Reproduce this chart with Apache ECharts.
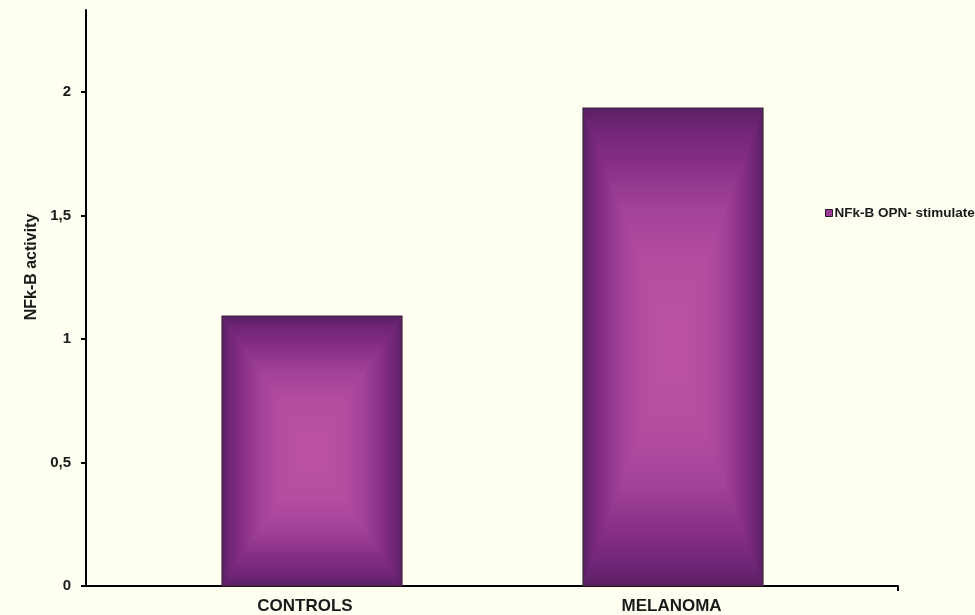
<!DOCTYPE html>
<html>
<head>
<meta charset="utf-8">
<script src="https://cdn.jsdelivr.net/npm/echarts@6/dist/echarts.min.js"></script>
<style>
  html, body { margin: 0; padding: 0; background: #fffff2; }
  #chart { width: 975px; height: 615px; }
</style>
</head>
<body>
<div id="chart"></div>
<script>
// Groups on the horizontal axis
var categories = ['CONTROLS', 'MELANOMA'];
// NF-kB activity after OPN stimulation
var seriesName = 'NFk-B OPN- stimulated';
var values = [1.095, 1.935];
// Value-axis tick labels (comma as decimal separator)
var yTicks = [0, 0.5, 1, 1.5, 2];

var X_MIN = -0.626, X_MAX = 1.623, Y_MAX = 2.332;
var BAR_W = 180;

// Path-gradient stops, from the edge of the bar toward its centre
var stops = [
  [0.00, '#5a1f63'],
  [0.08, '#6e2576'],
  [0.22, '#862d85'],
  [0.42, '#a2429a'],
  [0.65, '#b54d9f'],
  [1.00, '#bd52a1']
];

function grad(x1, y1, x2, y2) {
  return {
    type: 'linear', x: x1, y: y1, x2: x2, y2: y2, global: true,
    colorStops: stops.map(function (s) { return { offset: s[0], color: s[1] }; })
  };
}

// Each bar: a rectangular "from centre" gradient built from a horizontal
// gradient rect and two vertical-gradient triangles on top of it.
function renderBar(params, api) {
  var top = api.coord([api.value(0), api.value(1)]);
  var base = api.coord([api.value(0), 0]);
  var l = Math.round(top[0] - BAR_W / 2), r = l + BAR_W;
  var t = Math.round(top[1]), b = Math.round(base[1]);
  var cx = (l + r) / 2, cy = (t + b) / 2;
  var hFill = {
    type: 'linear', x: l, y: 0, x2: r, y2: 0, global: true,
    colorStops: stops.map(function (s) { return { offset: s[0] / 2, color: s[1] }; })
      .concat(stops.slice().reverse().map(function (s) { return { offset: 1 - s[0] / 2, color: s[1] }; }))
  };
  return {
    type: 'group',
    children: [
      { type: 'rect', shape: { x: l, y: t, width: BAR_W, height: b - t }, style: { fill: hFill } },
      { type: 'polygon', shape: { points: [[l, t], [r, t], [cx, cy]] }, style: { fill: grad(cx, t, cx, cy) } },
      { type: 'polygon', shape: { points: [[l, b], [r, b], [cx, cy]] }, style: { fill: grad(cx, b, cx, cy) } },
      { type: 'rect', shape: { x: l, y: t, width: BAR_W, height: b - t },
        style: { fill: 'none', stroke: '#3a2a3a', lineWidth: 1.2 } }
    ]
  };
}

var FONT = 'Liberation Sans, Arial';
var chart = echarts.init(document.getElementById('chart'));
chart.setOption({
  backgroundColor: '#fffff2',
  animation: false,
  grid: { left: 86, right: 77, top: 10, bottom: 29 },
  legend: {
    left: 820, top: 201,
    icon: 'rect', itemWidth: 7, itemHeight: 7, itemGap: 4,
    data: [{ name: seriesName, itemStyle: { color: '#9a3d95', borderColor: '#2a1a2a', borderWidth: 1 } }],
    textStyle: { fontFamily: FONT, fontWeight: 'bold', fontSize: 13.5, color: '#1a1a1a', padding: [0, 0, 0, -3] }
  },
  xAxis: {
    type: 'value', min: X_MIN, max: X_MAX,
    splitLine: { show: false },
    axisLine: { show: true, onZero: false, lineStyle: { color: '#000', width: 2 } },
    axisTick: { show: true, length: 5, lineStyle: { color: '#000', width: 2 }, customValues: [X_MAX] },
    axisLabel: {
      customValues: [0, 1], margin: 12,
      formatter: function (v) {
        var i = Math.round(v);
        return '{c' + i + '|' + categories[i] + '}';
      },
      rich: {
        c0: { fontFamily: FONT, fontWeight: 'bold', fontSize: 17, color: '#1a1a1a', padding: [0, 14, 0, 0] },
        c1: { fontFamily: FONT, fontWeight: 'bold', fontSize: 17, color: '#1a1a1a', padding: [0, 3, 0, 0] }
      }
    }
  },
  yAxis: {
    type: 'value', min: 0, max: Y_MAX,
    name: 'NFk-B activity', nameLocation: 'middle', nameGap: 38,
    nameTextStyle: { fontFamily: FONT, fontWeight: 'bold', fontSize: 16, color: '#1a1a1a', padding: [0, 0, 0, 62] },
    splitLine: { show: false },
    axisLine: { show: true, onZero: false, lineStyle: { color: '#000', width: 2 } },
    axisTick: { show: true, length: 5, lineStyle: { color: '#000', width: 2 }, customValues: yTicks },
    axisLabel: {
      customValues: yTicks, margin: 15,
      formatter: function (v) { return String(v).replace('.', ','); },
      fontFamily: FONT, fontWeight: 'bold', fontSize: 15, color: '#1a1a1a'
    }
  },
  series: [{
    type: 'custom', name: seriesName,
    itemStyle: { color: '#9a3d95' },
    renderItem: renderBar,
    encode: { x: 0, y: 1 },
    data: values.map(function (v, i) { return [i, v]; })
  }]
});
</script>
</body>
</html>
